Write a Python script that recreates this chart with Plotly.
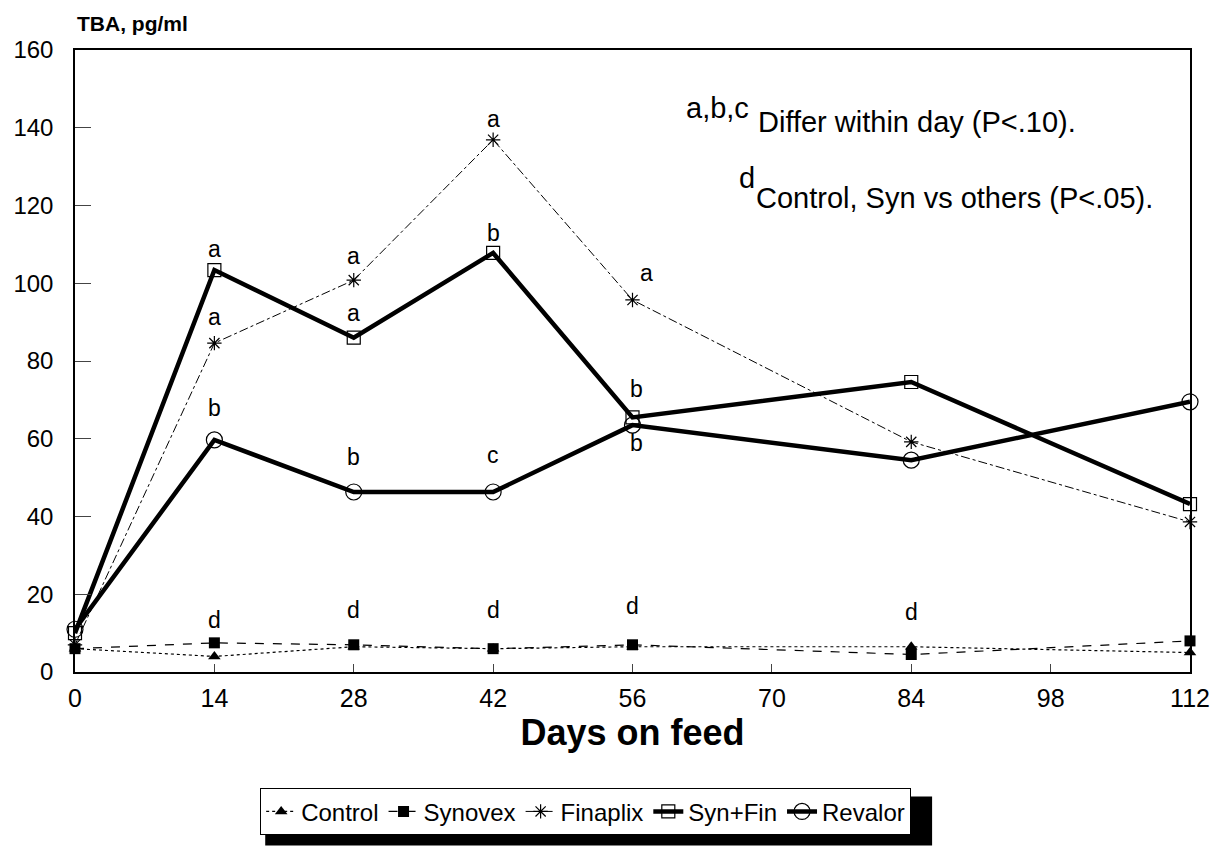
import plotly.graph_objects as go

days = [0, 14, 28, 42, 56, 84, 112]
control = [6, 4, 6.5, 6, 6.5, 6.5, 5]
synovex = [6, 7.5, 7, 6, 7, 4.5, 8]
finaplix = [7, 84.6, 100.8, 136.9, 95.7, 59.2, 38.6]
synfin = [10, 103.4, 86, 107.8, 65.5, 74.6, 43.2]
revalor = [11, 59.7, 46.3, 46.3, 63.5, 54.5, 69.5]

x_ticks = [0, 14, 28, 42, 56, 70, 84, 98, 112]
y_ticks = [0, 20, 40, 60, 80, 100, 120, 140, 160]

# letter labels: (day, value, text)
letters = [
    (14, 108.8, "a"), (14, 91.3, "a"), (14, 67.9, "b"), (14, 13.5, "d"),
    (28, 107, "a"), (28, 92.3, "a"), (28, 55.3, "b"), (28, 16, "d"),
    (42, 142.2, "a"), (42, 112.9, "b"), (42, 55.8, "c"), (42, 16, "d"),
    (57.4, 102.6, "a"), (56.4, 72.8, "b"), (56.4, 58.9, "b"), (56, 17, "d"),
    (84, 15.5, "d"),
    (114.2, 73.8, "a"), (113.8, 44.8, "b"), (113.8, 36.5, "b"), (114.3, 10, "d"),
]

FONT = "Liberation Sans, Arial, sans-serif"

fig = go.Figure()
fig.add_trace(go.Scatter(x=days, y=control, name="Control", mode="lines+markers",
                         line=dict(color="black", width=1.2, dash="dot"),
                         marker=dict(symbol="triangle-up", size=11, color="black"),
                         cliponaxis=False))
fig.add_trace(go.Scatter(x=days, y=synovex, name="Synovex", mode="lines+markers",
                         line=dict(color="black", width=1.2, dash="dash"),
                         marker=dict(symbol="square", size=11, color="black"),
                         cliponaxis=False))
fig.add_trace(go.Scatter(x=days, y=finaplix, name="Finaplix", mode="lines+markers",
                         line=dict(color="black", width=1, dash="dashdot"),
                         marker=dict(symbol="asterisk-open", size=12, color="black",
                                     line=dict(width=1.2, color="black")),
                         cliponaxis=False))
fig.add_trace(go.Scatter(x=days, y=synfin, name="Syn+Fin", mode="lines+markers",
                         line=dict(color="black", width=4.5),
                         marker=dict(symbol="square-open", size=13, color="black",
                                     line=dict(width=1.2, color="black")),
                         cliponaxis=False))
fig.add_trace(go.Scatter(x=days, y=revalor, name="Revalor", mode="lines+markers",
                         line=dict(color="black", width=4.5),
                         marker=dict(symbol="circle-open", size=16, color="black",
                                     line=dict(width=1.2, color="black")),
                         cliponaxis=False))

for d, v, t in letters:
    fig.add_annotation(x=d, y=v, text=t, showarrow=False, xref="x", yref="y",
                       font=dict(family=FONT, size=23, color="black"))

notes = [
    (61.2, 145, "a,b,c"),
    (68.4, 141.5, "Differ within day (P<.10)."),
    (66.5, 127, "d"),
    (68.2, 122, "Control, Syn vs others (P<.05)."),
]
for d, v, t in notes:
    fig.add_annotation(x=d, y=v, text=t, showarrow=False, xref="x", yref="y",
                       xanchor="left", font=dict(family=FONT, size=29, color="black"))

fig.add_annotation(x=0, y=1.0, xref="paper", yref="paper", yshift=13, text="<b>TBA, pg/ml</b>",
                   showarrow=False, xanchor="left", yanchor="bottom",
                   font=dict(family=FONT, size=21, color="black"))

# legend shadow
fig.add_shape(type="rect", xref="paper", yref="paper",
              x0=0.1706, x1=0.7687, y0=-0.279, y1=-0.200,
              fillcolor="black", line=dict(width=0), layer="below")

fig.update_layout(
    width=1211, height=843,
    margin=dict(l=67, r=29, t=42, b=179),
    paper_bgcolor="white", plot_bgcolor="white",
    font=dict(family=FONT, size=20, color="black"),
    showlegend=True,
    legend=dict(orientation="h", x=0.458, xanchor="center", y=-0.187, yanchor="top",
                bgcolor="white", bordercolor="black", borderwidth=1,
                font=dict(family=FONT, size=24, color="black"),
                itemwidth=30, tracegroupgap=0),
    xaxis=dict(range=[0, 112], tickvals=x_ticks, ticks="inside", ticklen=8,
               showline=True, linecolor="black", linewidth=1.5, mirror=True,
               showgrid=False, zeroline=False, ticklabelstandoff=3, automargin=False,
               title=dict(text="<b>Days on feed</b>", font=dict(family=FONT, size=36), standoff=8),
               tickfont=dict(family=FONT, size=25)),
    yaxis=dict(range=[0, 160], tickvals=y_ticks, ticks="inside", ticklen=16,
               showline=True, linecolor="black", linewidth=1.5, mirror=True,
               showgrid=False, zeroline=False, ticklabelstandoff=15, automargin=False,
               tickfont=dict(family=FONT, size=24)),
)

fig.write_html("out.html")
